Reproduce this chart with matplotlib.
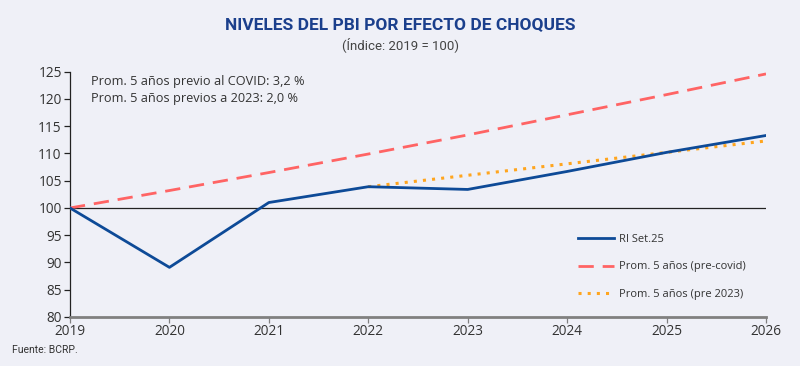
import matplotlib
matplotlib.use("Agg")
import matplotlib.pyplot as plt

# ── Data ──────────────────────────────────────────────────────
years      = [2019, 2020, 2021, 2022, 2023, 2024, 2025, 2026]
ri_set25   = [100.0, 89.1, 101.0, 103.9, 103.4, 106.7, 110.2, 113.3]
pre_covid  = [100.0, 103.2, 106.5, 109.9, 113.4, 117.1, 120.8, 124.6]
years_2023 = [2022, 2023, 2024, 2025, 2026]
pre_2023   = [103.9, 106.0, 108.1, 110.2, 112.3]

BG    = "#eff0f7"
BLUE  = "#0d4a97"
RED   = "#ff6464"
ORNG  = "#ffa51e"
TXT   = "#333333"

plt.rcParams["font.family"] = ["Open Sans", "DejaVu Sans"]

fig = plt.figure(figsize=(8, 3.66), dpi=100, facecolor=BG)
ax = fig.add_axes([0.0875, 0.134, 0.87, 0.670], facecolor=BG)

ax.axhline(100, color="#222222", lw=0.9, zorder=1)
ax.plot(years, ri_set25, color=BLUE, lw=2, label="RI Set.25", zorder=4)
ax.plot(years, pre_covid, color=RED, lw=2, dashes=(5.5, 3.2),
        label="Prom. 5 años (pre-covid)", zorder=3)
ax.plot(years_2023, pre_2023, color=ORNG, lw=2.2, linestyle=(0, (1, 2)),
        label="Prom. 5 años (pre 2023)", zorder=3)

ax.set_xlim(2019, 2026)
ax.set_ylim(80, 125)
ax.set_xticks(years)
ax.set_yticks(range(80, 126, 5))

for s in ("top", "right"):
    ax.spines[s].set_visible(False)
ax.spines["left"].set_color("#222222")
ax.spines["left"].set_linewidth(0.9)
ax.spines["bottom"].set_color("#808080")
ax.spines["bottom"].set_linewidth(2)
ax.tick_params(axis="y", length=4, width=0.9, color="#222222",
               labelsize=9.8, labelcolor=TXT, pad=2)
ax.tick_params(axis="x", length=4, width=0.9, color="#808080",
               labelsize=9.8, labelcolor=TXT, pad=1)

ax.text(0.03, 0.985, "Prom. 5 años previo al COVID: 3,2 %\nProm. 5 años previos a 2023: 2,0 %",
        transform=ax.transAxes, ha="left", va="top", fontsize=9.2,
        color=TXT, linespacing=1.35)

leg = ax.legend(loc="lower right", bbox_to_anchor=(0.985, 0.03), frameon=False,
                handlelength=3.3, handletextpad=0.4, labelspacing=1.45,
                prop={"family": ["Open Sans", "DejaVu Sans"], "size": 8})
for t in leg.get_texts():
    t.set_color(TXT)

fig.text(0.5, 0.932, "NIVELES DEL PBI POR EFECTO DE CHOQUES", ha="center",
         va="center", fontsize=12.5, fontweight="bold", color="#1b3f8c",
         family=["Roboto", "DejaVu Sans"])
fig.text(0.5, 0.877, "(Índice: 2019 = 100)", ha="center", va="center",
         fontsize=9.5, color="#444444", family=["Roboto", "DejaVu Sans"])
fig.text(0.015, 0.045, "Fuente: BCRP.", ha="left", va="center",
         fontsize=7.5, color=TXT, family=["Roboto", "DejaVu Sans"])

fig.savefig("out.png", dpi=100, facecolor=BG)
